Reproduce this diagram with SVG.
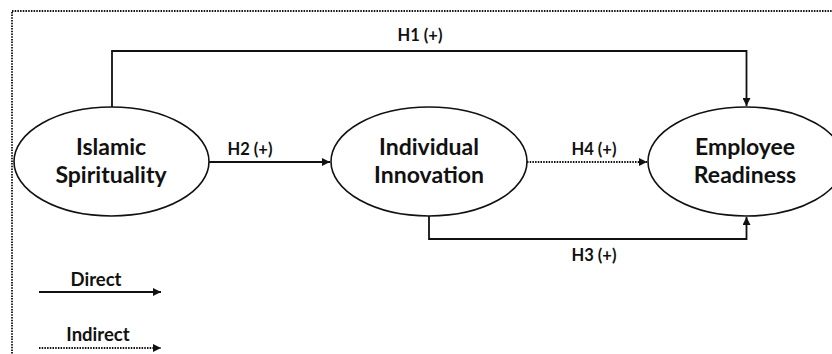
<svg xmlns="http://www.w3.org/2000/svg" width="832" height="354" viewBox="0 0 832 354">
<defs>
<marker id="ah" viewBox="0 0 10 10" refX="10" refY="5" markerWidth="8" markerHeight="8" markerUnits="userSpaceOnUse" orient="auto">
<path d="M0,0 L10,5 L0,10 z" fill="#111"/>
</marker>
</defs>
<style>
.node ellipse{fill:#fff;stroke:#111;stroke-width:1.6}
.node text{font-family:Lato,"Open Sans",sans-serif;font-weight:bold;font-size:23px;fill:#111;text-anchor:middle}
.lbl{font-family:Lato,"Open Sans",sans-serif;font-weight:bold;font-size:16.5px;fill:#111;text-anchor:middle}
.leg{font-family:Lato,"Open Sans",sans-serif;font-weight:bold;font-size:18.5px;fill:#111;text-anchor:middle}
.solid{fill:none;stroke:#111;stroke-width:1.8}
.dot{fill:none;stroke:#111;stroke-width:1.8;stroke-dasharray:1.5 1.2}
</style>
<rect x="12" y="11" width="840" height="360" fill="none" stroke="#111" stroke-width="1.8" stroke-dasharray="1.5 1.2"/>
<g id="connectors">
<polyline class="solid" points="112,107 112,51 746.5,51 746.5,106" marker-end="url(#ah)"/>
<line class="solid" x1="209" y1="162" x2="330" y2="162" marker-end="url(#ah)"/>
<line class="dot" x1="527" y1="162" x2="647" y2="162" marker-end="url(#ah)"/>
<polyline class="solid" points="429,216 429,239 746.5,239 746.5,217" marker-end="url(#ah)"/>
<text class="lbl" x="420" y="41">H1 (+)</text>
<text class="lbl" x="250" y="155">H2 (+)</text>
<text class="lbl" x="594" y="155">H4 (+)</text>
<text class="lbl" x="594" y="261">H3 (+)</text>
</g>
<g id="node-islamic" class="node">
<ellipse cx="111.5" cy="161.5" rx="97.5" ry="54.5"/>
<text x="111" y="155">Islamic</text>
<text x="111" y="183">Spirituality</text>
</g>
<g id="node-innovation" class="node">
<ellipse cx="429" cy="161.5" rx="98" ry="54.5"/>
<text x="429" y="155">Individual</text>
<text x="429" y="183">Innovation</text>
</g>
<g id="node-readiness" class="node">
<ellipse cx="746" cy="161.5" rx="98" ry="54.5"/>
<text x="745" y="155">Employee</text>
<text x="745" y="183">Readiness</text>
</g>
<g id="legend">
<text class="leg" x="96" y="286">Direct</text>
<line class="solid" x1="39" y1="292" x2="161" y2="292" marker-end="url(#ah)"/>
<text class="leg" x="98" y="341">Indirect</text>
<line class="dot" x1="39" y1="348" x2="161" y2="348" marker-end="url(#ah)"/>
</g>
</svg>
